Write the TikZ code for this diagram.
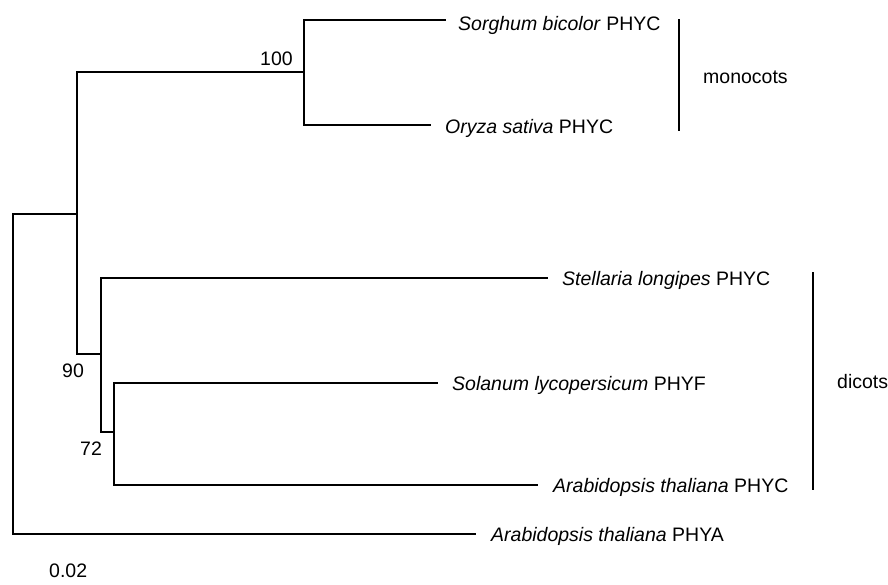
\documentclass[tikz,border=0pt]{standalone}
\usepackage{fontspec}
\setmainfont{Liberation Sans}
\begin{document}
\begin{tikzpicture}[x=1pt,y=-1pt,
  branch/.style={line width=1.8pt, line cap=rect},
  cladebar/.style={line width=1.8pt},
  leaf/.style={anchor=base west, inner sep=0pt, font=\fontsize{19.5}{22}\selectfont},
  lbl/.style={anchor=base west, inner sep=0pt, font=\fontsize{19.5}{22}\selectfont}]
\useasboundingbox (0,0) rectangle (888,584);
% tree vertices
\coordinate (rt) at (13,214);
\coordinate (rb) at (13,534);
\coordinate (nA) at (77,214);
\coordinate (nAt) at (77,72);
\coordinate (nAb) at (77,354);
\coordinate (nM) at (304,72);
\coordinate (nMt) at (304,20);
\coordinate (nMb) at (304,125);
\coordinate (nD) at (101,354);
\coordinate (nDt) at (101,278);
\coordinate (nDb) at (101,432);
\coordinate (nE) at (114,432);
\coordinate (nEt) at (114,383);
\coordinate (nEb) at (114,485);
% leaf ends
\coordinate (eS) at (445,20);
\coordinate (eO) at (430,125);
\coordinate (eSt) at (547,278);
\coordinate (eSo) at (437,383);
\coordinate (eAc) at (537,485);
\coordinate (eAa) at (475,534);
% leaf labels
\node[leaf] (lS) at (458,30) {\itshape Sorghum bicolor\/\upshape{} PHYC};
\node[leaf] (lO) at (445,133) {\itshape Oryza sativa\/\upshape{} PHYC};
\node[leaf] (lSt) at (562,285) {\itshape Stellaria longipes\/\upshape{} PHYC};
\node[leaf] (lSo) at (452,390) {\itshape Solanum lycopersicum\/\upshape{} PHYF};
\node[leaf] (lAc) at (553,492) {\itshape Arabidopsis thaliana\/\upshape{} PHYC};
\node[leaf] (lAa) at (491,541) {\itshape Arabidopsis thaliana\/\upshape{} PHYA};
% branches
\draw[branch] (nA) -- (rt) -- (rb) -- (eAa);
\draw[branch] (nM) -- (nAt) -- (nAb) -- (nD);
\draw[branch] (eS) -- (nMt) -- (nMb) -- (eO);
\draw[branch] (eSt) -- (nDt) -- (nDb) -- (nE);
\draw[branch] (eSo) -- (nEt) -- (nEb) -- (eAc);
% bootstrap values
\node[lbl] (b100) at (260,65) {100};
\node[lbl] (b90) at (62,377) {90};
\node[lbl] (b72) at (80,455) {72};
\node[lbl] (scale) at (49,577) {0.02};
% clade bars
\coordinate (mt) at (679,19);
\coordinate (mb) at (679,131);
\coordinate (dt) at (813,272);
\coordinate (db) at (813,490);
\draw[cladebar] (mt) -- (mb);
\draw[cladebar] (dt) -- (db);
\node[lbl] (mono) at (703,83) {monocots};
\node[lbl] (dico) at (837,388) {dicots};
\end{tikzpicture}
\end{document}
